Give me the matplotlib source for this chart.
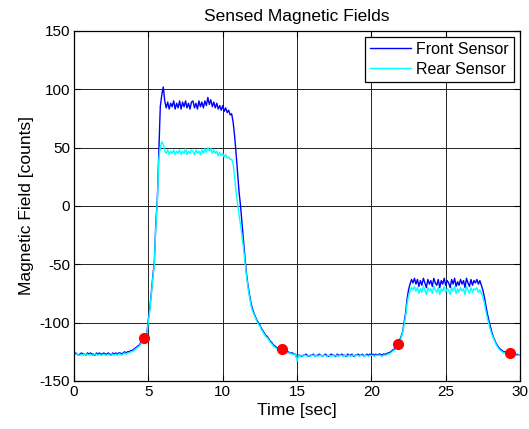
import matplotlib.pyplot as plt
import numpy as np

plt.rcParams['font.family'] = ['Liberation Sans', 'DejaVu Sans']
plt.rcParams['axes.unicode_minus'] = False

# time axis, 0.1 s per sample
t = np.round(np.arange(0, 30.01, 0.1), 1)

front = [
    -127, -126, -127, -128, -127, -126, -127, -127, -128, -126,
    -127, -126, -127, -127, -128, -126, -127, -126, -127, -127,
    -126, -127, -127, -126, -127, -128, -126, -127, -126, -127,
    -126, -126, -127, -126, -125, -126, -125, -125, -124, -124,
    -123, -122, -121, -120, -119, -117, -116, -114, -112, -109,
    -97, -87, -74, -60, -48, -15, 5, 45, 85, 95,
    102, 90, 84, 89, 83, 88, 85, 90, 83, 88,
    84, 90, 83, 89, 85, 90, 84, 88, 83, 89,
    90, 84, 88, 83, 90, 85, 89, 84, 90, 86,
    93, 87, 91, 85, 89, 84, 88, 83, 86, 82,
    86, 81, 84, 80, 82, 78, 79, 72, 60, 45,
    28, 12, 0, -15, -30, -45, -58, -68, -76, -83,
    -88, -92, -95, -98, -100, -102, -105, -107, -109, -111,
    -112, -114, -116, -117, -119, -120, -121, -122, -122, -123,
    -123, -124, -124, -125, -125, -126, -126, -126, -127, -127,
    -131, -128, -128, -129, -128, -128, -127, -128, -129, -128,
    -128, -127, -129, -128, -128, -127, -128, -129, -128, -127,
    -128, -129, -128, -127, -128, -128, -129, -127, -128, -128,
    -127, -128, -128, -129, -127, -128, -128, -127, -129, -128,
    -128, -127, -128, -128, -127, -129, -128, -127, -128, -127,
    -128, -127, -128, -127, -128, -127, -127, -128, -127, -127,
    -127, -126, -126, -125, -124, -123, -122, -120, -118, -115,
    -112, -108, -100, -92, -80, -72, -67, -63, -66, -62,
    -67, -63, -69, -64, -68, -62, -66, -70, -63, -67,
    -64, -69, -62, -66, -68, -63, -70, -64, -67, -62,
    -68, -64, -66, -70, -63, -67, -62, -69, -65, -68,
    -63, -67, -64, -70, -62, -66, -69, -63, -68, -64,
    -66, -63, -67, -64, -68, -72, -78, -85, -92, -98,
    -103, -108, -112, -115, -118, -120, -122, -123, -124, -125,
    -125, -126, -126, -126, -127, -127, -127, -128, -127, -128,
    -128,
]

rear = [
    -128, -127, -127, -128, -128, -127, -128, -127, -128, -127,
    -128, -127, -128, -128, -127, -127, -128, -127, -128, -128,
    -127, -128, -128, -127, -128, -128, -127, -128, -127, -128,
    -127, -127, -128, -127, -126, -127, -126, -126, -125, -125,
    -124, -123, -122, -121, -120, -118, -117, -115, -113, -110,
    -99, -89, -76, -62, -50, -18, 3, 40, 50, 55,
    53, 47, 45, 48, 44, 47, 45, 48, 44, 47,
    45, 48, 44, 47, 45, 49, 44, 47, 45, 48,
    47, 44, 48, 45, 47, 44, 48, 45, 49, 46,
    50, 47, 49, 45, 48, 45, 47, 43, 46, 43,
    45, 42, 44, 41, 42, 40, 40, 36, 25, 12,
    2, -8, -16, -26, -36, -48, -60, -70, -78, -85,
    -90, -93, -96, -99, -101, -103, -106, -108, -110, -112,
    -113, -115, -117, -118, -120, -121, -122, -123, -123, -124,
    -124, -125, -125, -126, -126, -126, -127, -127, -127, -127,
    -133, -128, -129, -128, -129, -128, -128, -129, -128, -129,
    -128, -128, -129, -128, -129, -128, -128, -129, -128, -128,
    -129, -128, -128, -129, -128, -129, -128, -128, -129, -128,
    -128, -129, -128, -128, -129, -128, -129, -128, -128, -129,
    -128, -128, -129, -128, -128, -129, -128, -128, -129, -128,
    -128, -128, -129, -128, -128, -128, -128, -129, -128, -128,
    -128, -127, -127, -126, -125, -124, -123, -121, -119, -116,
    -113, -109, -102, -95, -84, -77, -73, -70, -72, -69,
    -73, -70, -75, -71, -74, -69, -72, -76, -70, -73,
    -71, -75, -69, -72, -74, -70, -76, -71, -73, -69,
    -74, -71, -72, -76, -70, -73, -69, -75, -71, -74,
    -70, -73, -71, -76, -69, -72, -75, -70, -74, -71,
    -72, -70, -74, -72, -75, -78, -83, -90, -96, -101,
    -106, -110, -113, -116, -119, -121, -123, -124, -125, -126,
    -126, -127, -127, -127, -128, -128, -128, -128, -128, -128,
    -128,
]

# marked points (red dots)
mark_t = [4.7, 14.0, 21.8, 29.3]
mark_y = [-113, -123, -118, -126]

fig = plt.figure(figsize=(5.29, 4.29), dpi=100)
ax = fig.add_axes([0.140, 0.112, 0.843, 0.816])

ax.plot(t, front, color='#0000ff', lw=1.0, label='Front Sensor')
ax.plot(t, rear, color='#00ffff', lw=1.0, label='Rear Sensor')
ax.plot(mark_t, mark_y, 'o', color='#ff0000', ms=7, mec='#ff0000')

ax.set_xlim(0, 30)
ax.set_ylim(-150, 150)
ax.set_xticks(np.arange(0, 31, 5))
ax.set_yticks(np.arange(-150, 151, 50))
ax.grid(True, color='#222222', lw=0.7, ls='-')
ax.set_axisbelow(True)
ax.tick_params(direction='in', top=True, right=True, labelsize=11, length=4, pad=3)
for s in ax.spines.values():
    s.set_linewidth(0.9)

ax.set_xlabel('Time [sec]', fontsize=12.5, labelpad=3)
ax.set_ylabel('Magnetic Field [counts]', fontsize=12.5, labelpad=4)
ax.set_title('Sensed Magnetic Fields', fontsize=12.5, pad=7)

leg = ax.legend(loc='upper right', fontsize=11.5, fancybox=False, framealpha=1,
                edgecolor='black', borderaxespad=0.4, handlelength=2.6,
                borderpad=0.3, labelspacing=0.3, handletextpad=0.3)
leg.get_frame().set_linewidth(0.9)

plt.savefig('out.png', dpi=100)
